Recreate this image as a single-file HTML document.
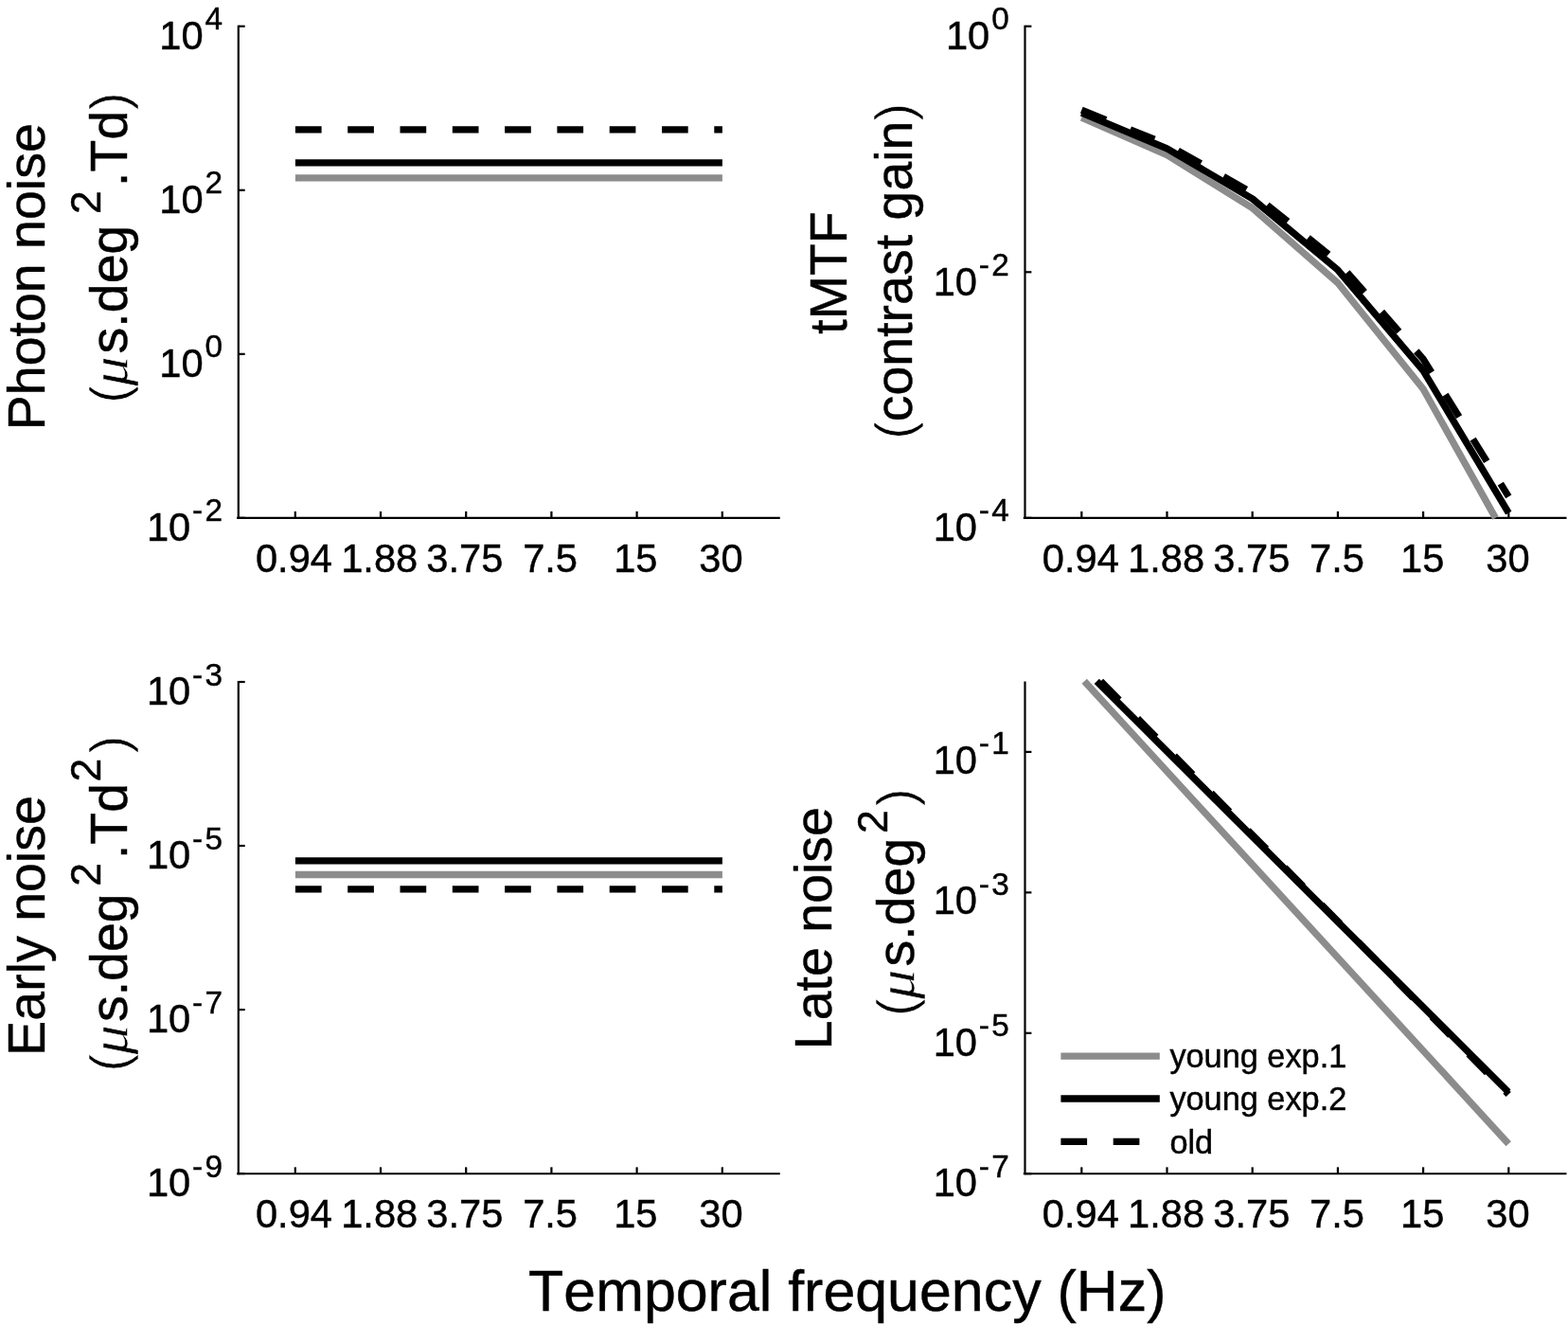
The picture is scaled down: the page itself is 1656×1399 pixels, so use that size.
<!DOCTYPE html>
<html lang="en">
<head>
<meta charset="utf-8">
<title>Temporal frequency figure</title>
<style>
html,body{margin:0;padding:0;background:#fff;}
body{width:1656px;height:1399px;overflow:hidden;}
svg{display:block;}
text{font-kerning:none;}
</style>
</head>
<body>
<svg width="1656" height="1399" viewBox="0 0 1656 1399" font-family='"Liberation Sans", sans-serif' fill="#000" style="font-kerning:none">
<rect width="1656" height="1399" fill="#fff"/>
<g id="panel-photon-noise">
<g class="axes">
<line x1="251.8" y1="26.65" x2="251.8" y2="547.95" stroke="#000" stroke-width="2.2"/>
<line x1="250.1" y1="546.85" x2="823.8" y2="546.85" stroke="#000" stroke-width="2.2"/>
<line x1="311.8" y1="546.85" x2="311.8" y2="539.95" stroke="#000" stroke-width="2.2"/>
<line x1="402" y1="546.85" x2="402" y2="539.95" stroke="#000" stroke-width="2.2"/>
<line x1="492.2" y1="546.85" x2="492.2" y2="539.95" stroke="#000" stroke-width="2.2"/>
<line x1="582.4" y1="546.85" x2="582.4" y2="539.95" stroke="#000" stroke-width="2.2"/>
<line x1="672.6" y1="546.85" x2="672.6" y2="539.95" stroke="#000" stroke-width="2.2"/>
<line x1="762.8" y1="546.85" x2="762.8" y2="539.95" stroke="#000" stroke-width="2.2"/>
<line x1="251.8" y1="27.75" x2="258.7" y2="27.75" stroke="#000" stroke-width="2.2"/>
<line x1="251.8" y1="200.78" x2="258.7" y2="200.78" stroke="#000" stroke-width="2.2"/>
<line x1="251.8" y1="373.82" x2="258.7" y2="373.82" stroke="#000" stroke-width="2.2"/>
<line x1="251.8" y1="546.85" x2="258.7" y2="546.85" stroke="#000" stroke-width="2.2"/>
</g>
<g class="xticklabels">
<text x="310.5" y="603.6" font-size="41.67" text-anchor="middle" stroke="#000" stroke-width="0.45">0.94</text>
<text x="400.7" y="603.6" font-size="41.67" text-anchor="middle" stroke="#000" stroke-width="0.45">1.88</text>
<text x="490.9" y="603.6" font-size="41.67" text-anchor="middle" stroke="#000" stroke-width="0.45">3.75</text>
<text x="581.1" y="603.6" font-size="41.67" text-anchor="middle" stroke="#000" stroke-width="0.45">7.5</text>
<text x="671.3" y="603.6" font-size="41.67" text-anchor="middle" stroke="#000" stroke-width="0.45">15</text>
<text x="761.5" y="603.6" font-size="41.67" text-anchor="middle" stroke="#000" stroke-width="0.45">30</text>
</g>
<g class="yticklabels">
<text x="214.6" y="51.9" font-size="41.67" text-anchor="end" stroke="#000" stroke-width="0.45">10</text>
<text x="216.6" y="31.3" font-size="33.33" stroke="#000" stroke-width="0.45">4</text>
<text x="214.6" y="224.93" font-size="41.67" text-anchor="end" stroke="#000" stroke-width="0.45">10</text>
<text x="216.6" y="204.33" font-size="33.33" stroke="#000" stroke-width="0.45">2</text>
<text x="214.6" y="397.97" font-size="41.67" text-anchor="end" stroke="#000" stroke-width="0.45">10</text>
<text x="216.6" y="377.37" font-size="33.33" stroke="#000" stroke-width="0.45">0</text>
<text x="201.3" y="571" font-size="41.67" text-anchor="end" stroke="#000" stroke-width="0.45">10</text>
<text x="203.1" y="550.4" font-size="33.33" stroke="#000" stroke-width="0.45">-</text>
<text x="216.6" y="550.4" font-size="33.33" stroke="#000" stroke-width="0.45">2</text>
</g>
<polyline points="311.9,187.8 762.9,187.8" fill="none" stroke="#8c8c8c" stroke-width="7.3" stroke-linejoin="round"/>
<polyline points="311.9,171.85 762.9,171.85" fill="none" stroke="#000" stroke-width="7.3" stroke-linejoin="round"/>
<polyline points="311.9,136.9 762.9,136.9" fill="none" stroke="#000" stroke-width="7.3" stroke-linejoin="round" stroke-dasharray="27.7 27.6"/>
<g transform="translate(46.75,454.23) rotate(-90)">
<text x="0" y="0" font-size="55.5" stroke="#000" stroke-width="0.45">Photon noise</text>
</g>
<g transform="translate(133.7,421.8) rotate(-90)">
<text x="-4" y="0" font-size="55.5" stroke="#fff" stroke-width="0.60">(</text>
<text transform="translate(14,0) scale(1.15,1)" font-size="54.5" font-family="'Liberation Serif', serif" font-style="italic" stroke="#fff" stroke-width="0.50">μ</text>
<text x="48.4" y="0" font-size="55.5" stroke="#000" stroke-width="0.45">s.deg</text>
<text x="195.8" y="-27.6" font-size="44.4" stroke="#000" stroke-width="0.45">2</text>
<text x="224.9" y="0" font-size="55.5" stroke="#000" stroke-width="0.45">.Td</text>
<text x="305.75" y="0" font-size="55.5" stroke="#fff" stroke-width="0.60">)</text>
</g>
</g>
<g id="panel-early-noise">
<g class="axes">
<line x1="251.8" y1="718.9" x2="251.8" y2="1240.35" stroke="#000" stroke-width="2.2"/>
<line x1="250.1" y1="1239.25" x2="823.8" y2="1239.25" stroke="#000" stroke-width="2.2"/>
<line x1="311.8" y1="1239.25" x2="311.8" y2="1232.35" stroke="#000" stroke-width="2.2"/>
<line x1="402" y1="1239.25" x2="402" y2="1232.35" stroke="#000" stroke-width="2.2"/>
<line x1="492.2" y1="1239.25" x2="492.2" y2="1232.35" stroke="#000" stroke-width="2.2"/>
<line x1="582.4" y1="1239.25" x2="582.4" y2="1232.35" stroke="#000" stroke-width="2.2"/>
<line x1="672.6" y1="1239.25" x2="672.6" y2="1232.35" stroke="#000" stroke-width="2.2"/>
<line x1="762.8" y1="1239.25" x2="762.8" y2="1232.35" stroke="#000" stroke-width="2.2"/>
<line x1="251.8" y1="720" x2="258.7" y2="720" stroke="#000" stroke-width="2.2"/>
<line x1="251.8" y1="893.03" x2="258.7" y2="893.03" stroke="#000" stroke-width="2.2"/>
<line x1="251.8" y1="1066.07" x2="258.7" y2="1066.07" stroke="#000" stroke-width="2.2"/>
<line x1="251.8" y1="1239.1" x2="258.7" y2="1239.1" stroke="#000" stroke-width="2.2"/>
</g>
<g class="xticklabels">
<text x="310.5" y="1296" font-size="41.67" text-anchor="middle" stroke="#000" stroke-width="0.45">0.94</text>
<text x="400.7" y="1296" font-size="41.67" text-anchor="middle" stroke="#000" stroke-width="0.45">1.88</text>
<text x="490.9" y="1296" font-size="41.67" text-anchor="middle" stroke="#000" stroke-width="0.45">3.75</text>
<text x="581.1" y="1296" font-size="41.67" text-anchor="middle" stroke="#000" stroke-width="0.45">7.5</text>
<text x="671.3" y="1296" font-size="41.67" text-anchor="middle" stroke="#000" stroke-width="0.45">15</text>
<text x="761.5" y="1296" font-size="41.67" text-anchor="middle" stroke="#000" stroke-width="0.45">30</text>
</g>
<g class="yticklabels">
<text x="201.3" y="744.15" font-size="41.67" text-anchor="end" stroke="#000" stroke-width="0.45">10</text>
<text x="203.1" y="723.55" font-size="33.33" stroke="#000" stroke-width="0.45">-</text>
<text x="216.6" y="723.55" font-size="33.33" stroke="#000" stroke-width="0.45">3</text>
<text x="201.3" y="917.18" font-size="41.67" text-anchor="end" stroke="#000" stroke-width="0.45">10</text>
<text x="203.1" y="896.58" font-size="33.33" stroke="#000" stroke-width="0.45">-</text>
<text x="216.6" y="896.58" font-size="33.33" stroke="#000" stroke-width="0.45">5</text>
<text x="201.3" y="1090.22" font-size="41.67" text-anchor="end" stroke="#000" stroke-width="0.45">10</text>
<text x="203.1" y="1069.62" font-size="33.33" stroke="#000" stroke-width="0.45">-</text>
<text x="216.6" y="1069.62" font-size="33.33" stroke="#000" stroke-width="0.45">7</text>
<text x="201.3" y="1263.25" font-size="41.67" text-anchor="end" stroke="#000" stroke-width="0.45">10</text>
<text x="203.1" y="1242.65" font-size="33.33" stroke="#000" stroke-width="0.45">-</text>
<text x="216.6" y="1242.65" font-size="33.33" stroke="#000" stroke-width="0.45">9</text>
</g>
<polyline points="311.9,923.5 762.9,923.5" fill="none" stroke="#8c8c8c" stroke-width="7.3" stroke-linejoin="round"/>
<polyline points="311.9,908.8 762.9,908.8" fill="none" stroke="#000" stroke-width="7.3" stroke-linejoin="round"/>
<polyline points="311.9,938.85 762.9,938.85" fill="none" stroke="#000" stroke-width="7.3" stroke-linejoin="round" stroke-dasharray="27.7 27.6"/>
<g transform="translate(46.6,1114.73) rotate(-90)">
<text x="0" y="0" font-size="55.5" stroke="#000" stroke-width="0.45">Early noise</text>
</g>
<g transform="translate(133.5,1127.5) rotate(-90)">
<text x="-4" y="0" font-size="55.5" stroke="#fff" stroke-width="0.60">(</text>
<text transform="translate(14,0) scale(1.15,1)" font-size="54.5" font-family="'Liberation Serif', serif" font-style="italic" stroke="#fff" stroke-width="0.50">μ</text>
<text x="48.4" y="0" font-size="55.5" stroke="#000" stroke-width="0.45">s.deg</text>
<text x="191.8" y="-27.6" font-size="44.4" stroke="#000" stroke-width="0.45">2</text>
<text x="220.4" y="0" font-size="55.5" stroke="#000" stroke-width="0.45">.Td</text>
<text x="302.1" y="-27.6" font-size="44.4" stroke="#000" stroke-width="0.45">2</text>
<text x="332.15" y="0" font-size="55.5" stroke="#fff" stroke-width="0.60">)</text>
</g>
</g>
<g id="panel-tmtf">
<g class="axes">
<line x1="1082.5" y1="26.65" x2="1082.5" y2="547.95" stroke="#000" stroke-width="2.2"/>
<line x1="1080.8" y1="546.85" x2="1654.5" y2="546.85" stroke="#000" stroke-width="2.2"/>
<line x1="1142.3" y1="546.85" x2="1142.3" y2="539.95" stroke="#000" stroke-width="2.2"/>
<line x1="1232.5" y1="546.85" x2="1232.5" y2="539.95" stroke="#000" stroke-width="2.2"/>
<line x1="1322.7" y1="546.85" x2="1322.7" y2="539.95" stroke="#000" stroke-width="2.2"/>
<line x1="1412.9" y1="546.85" x2="1412.9" y2="539.95" stroke="#000" stroke-width="2.2"/>
<line x1="1503.1" y1="546.85" x2="1503.1" y2="539.95" stroke="#000" stroke-width="2.2"/>
<line x1="1593.3" y1="546.85" x2="1593.3" y2="539.95" stroke="#000" stroke-width="2.2"/>
<line x1="1082.5" y1="27.75" x2="1089.4" y2="27.75" stroke="#000" stroke-width="2.2"/>
<line x1="1082.5" y1="287.3" x2="1089.4" y2="287.3" stroke="#000" stroke-width="2.2"/>
<line x1="1082.5" y1="546.85" x2="1089.4" y2="546.85" stroke="#000" stroke-width="2.2"/>
</g>
<g class="xticklabels">
<text x="1141.4" y="603.6" font-size="41.67" text-anchor="middle" stroke="#000" stroke-width="0.45">0.94</text>
<text x="1231.6" y="603.6" font-size="41.67" text-anchor="middle" stroke="#000" stroke-width="0.45">1.88</text>
<text x="1321.8" y="603.6" font-size="41.67" text-anchor="middle" stroke="#000" stroke-width="0.45">3.75</text>
<text x="1412" y="603.6" font-size="41.67" text-anchor="middle" stroke="#000" stroke-width="0.45">7.5</text>
<text x="1502.2" y="603.6" font-size="41.67" text-anchor="middle" stroke="#000" stroke-width="0.45">15</text>
<text x="1592.4" y="603.6" font-size="41.67" text-anchor="middle" stroke="#000" stroke-width="0.45">30</text>
</g>
<g class="yticklabels">
<text x="1045.3" y="51.9" font-size="41.67" text-anchor="end" stroke="#000" stroke-width="0.45">10</text>
<text x="1047.3" y="31.3" font-size="33.33" stroke="#000" stroke-width="0.45">0</text>
<text x="1032" y="312.35" font-size="41.67" text-anchor="end" stroke="#000" stroke-width="0.45">10</text>
<text x="1033.8" y="290.85" font-size="33.33" stroke="#000" stroke-width="0.45">-</text>
<text x="1047.3" y="290.85" font-size="33.33" stroke="#000" stroke-width="0.45">2</text>
<text x="1032" y="571" font-size="41.67" text-anchor="end" stroke="#000" stroke-width="0.45">10</text>
<text x="1033.8" y="550.4" font-size="33.33" stroke="#000" stroke-width="0.45">-</text>
<text x="1047.3" y="550.4" font-size="33.33" stroke="#000" stroke-width="0.45">4</text>
</g>
<polyline points="1142.3,124.09 1232.5,163.67 1322.7,219.65 1412.9,298.81 1503.1,410.77 1579.42,546.85" fill="none" stroke="#8c8c8c" stroke-width="7.3" stroke-linejoin="round"/>
<polyline points="1142.3,119.23 1232.5,156.79 1322.7,209.92 1412.9,285.06 1503.1,391.32 1593.3,541.59" fill="none" stroke="#000" stroke-width="7.3" stroke-linejoin="round"/>
<polyline points="1142.3,116.17 1232.5,152.48 1322.7,203.82 1412.9,276.42 1503.1,379.1 1593.3,524.32" fill="none" stroke="#000" stroke-width="7.3" stroke-linejoin="round" stroke-dasharray="27.7 27.6"/>
<g transform="translate(893.6,352.72) rotate(-90)">
<text x="0" y="0" font-size="55.5" stroke="#000" stroke-width="0.45">tMTF</text>
</g>
<g transform="translate(962.8,459.8) rotate(-90)">
<text x="-4" y="0" font-size="55.5" stroke="#fff" stroke-width="0.60">(</text>
<text x="14.48" y="0" font-size="55.5" stroke="#000" stroke-width="0.45">contrast gain</text>
<text x="332.22" y="0" font-size="55.5" stroke="#fff" stroke-width="0.60">)</text>
</g>
</g>
<g id="panel-late-noise">
<g class="axes">
<line x1="1082.5" y1="719.4" x2="1082.5" y2="1240.35" stroke="#000" stroke-width="2.2"/>
<line x1="1080.8" y1="1239.25" x2="1654.5" y2="1239.25" stroke="#000" stroke-width="2.2"/>
<line x1="1142.3" y1="1239.25" x2="1142.3" y2="1232.35" stroke="#000" stroke-width="2.2"/>
<line x1="1232.5" y1="1239.25" x2="1232.5" y2="1232.35" stroke="#000" stroke-width="2.2"/>
<line x1="1322.7" y1="1239.25" x2="1322.7" y2="1232.35" stroke="#000" stroke-width="2.2"/>
<line x1="1412.9" y1="1239.25" x2="1412.9" y2="1232.35" stroke="#000" stroke-width="2.2"/>
<line x1="1503.1" y1="1239.25" x2="1503.1" y2="1232.35" stroke="#000" stroke-width="2.2"/>
<line x1="1593.3" y1="1239.25" x2="1593.3" y2="1232.35" stroke="#000" stroke-width="2.2"/>
<line x1="1082.5" y1="793.9" x2="1089.4" y2="793.9" stroke="#000" stroke-width="2.2"/>
<line x1="1082.5" y1="942.35" x2="1089.4" y2="942.35" stroke="#000" stroke-width="2.2"/>
<line x1="1082.5" y1="1090.8" x2="1089.4" y2="1090.8" stroke="#000" stroke-width="2.2"/>
<line x1="1082.5" y1="1239.25" x2="1089.4" y2="1239.25" stroke="#000" stroke-width="2.2"/>
</g>
<g class="xticklabels">
<text x="1141.4" y="1296" font-size="41.67" text-anchor="middle" stroke="#000" stroke-width="0.45">0.94</text>
<text x="1231.6" y="1296" font-size="41.67" text-anchor="middle" stroke="#000" stroke-width="0.45">1.88</text>
<text x="1321.8" y="1296" font-size="41.67" text-anchor="middle" stroke="#000" stroke-width="0.45">3.75</text>
<text x="1412" y="1296" font-size="41.67" text-anchor="middle" stroke="#000" stroke-width="0.45">7.5</text>
<text x="1502.2" y="1296" font-size="41.67" text-anchor="middle" stroke="#000" stroke-width="0.45">15</text>
<text x="1592.4" y="1296" font-size="41.67" text-anchor="middle" stroke="#000" stroke-width="0.45">30</text>
</g>
<g class="yticklabels">
<text x="1032" y="817.05" font-size="41.67" text-anchor="end" stroke="#000" stroke-width="0.45">10</text>
<text x="1033.8" y="796.35" font-size="33.33" stroke="#000" stroke-width="0.45">-</text>
<text x="1047.3" y="796.35" font-size="33.33" stroke="#000" stroke-width="0.45">1</text>
<text x="1032" y="965.4" font-size="41.67" text-anchor="end" stroke="#000" stroke-width="0.45">10</text>
<text x="1033.8" y="944.8" font-size="33.33" stroke="#000" stroke-width="0.45">-</text>
<text x="1047.3" y="944.8" font-size="33.33" stroke="#000" stroke-width="0.45">3</text>
<text x="1032" y="1114.95" font-size="41.67" text-anchor="end" stroke="#000" stroke-width="0.45">10</text>
<text x="1033.8" y="1094.35" font-size="33.33" stroke="#000" stroke-width="0.45">-</text>
<text x="1047.3" y="1094.35" font-size="33.33" stroke="#000" stroke-width="0.45">5</text>
<text x="1032" y="1263.4" font-size="41.67" text-anchor="end" stroke="#000" stroke-width="0.45">10</text>
<text x="1033.8" y="1242.8" font-size="33.33" stroke="#000" stroke-width="0.45">-</text>
<text x="1047.3" y="1242.8" font-size="33.33" stroke="#000" stroke-width="0.45">7</text>
</g>
<polyline points="1145.2,719.3 1593.2,1207.7" fill="none" stroke="#8c8c8c" stroke-width="7.3" stroke-linejoin="round"/>
<polyline points="1158.3,719.3 1593,1153" fill="none" stroke="#000" stroke-width="7.3" stroke-linejoin="round"/>
<polyline points="1162.6,719.3 1593.2,1155.5" fill="none" stroke="#000" stroke-width="7.3" stroke-linejoin="round" stroke-dasharray="27.7 27.6"/>
<g transform="translate(877.7,1108.13) rotate(-90)">
<text x="0" y="0" font-size="55.5" stroke="#000" stroke-width="0.45">Late noise</text>
</g>
<g transform="translate(964.6,1068.9) rotate(-90)">
<text x="-4" y="0" font-size="55.5" stroke="#fff" stroke-width="0.60">(</text>
<text transform="translate(14,0) scale(1.15,1)" font-size="54.5" font-family="'Liberation Serif', serif" font-style="italic" stroke="#fff" stroke-width="0.50">μ</text>
<text x="48.4" y="0" font-size="55.5" stroke="#000" stroke-width="0.45">s.deg</text>
<text x="188.9" y="-27.6" font-size="44.4" stroke="#000" stroke-width="0.45">2</text>
<text x="217.8" y="0" font-size="55.5" stroke="#fff" stroke-width="0.60">)</text>
</g>
<g id="legend">
<line x1="1120.4" y1="1115.2" x2="1224.8" y2="1115.2" stroke="#8c8c8c" stroke-width="7.3"/>
<line x1="1120.4" y1="1160" x2="1224.8" y2="1160" stroke="#000" stroke-width="7.3"/>
<line x1="1120.4" y1="1205.4" x2="1224.8" y2="1205.4" stroke="#000" stroke-width="7.3" stroke-dasharray="27.7 27.6"/>
<text x="1235.4" y="1127.3" font-size="34.3" stroke="#000" stroke-width="0.45">young exp.1</text>
<text x="1235.4" y="1172.2" font-size="34.3" stroke="#000" stroke-width="0.45">young exp.2</text>
<text x="1235.4" y="1217.6" font-size="34.3" stroke="#000" stroke-width="0.45">old</text>
</g>
</g>
<text x="558.1" y="1384.3" font-size="60.9" stroke="#000" stroke-width="0.45">Temporal frequency (Hz)</text>
</svg>
</body>
</html>
